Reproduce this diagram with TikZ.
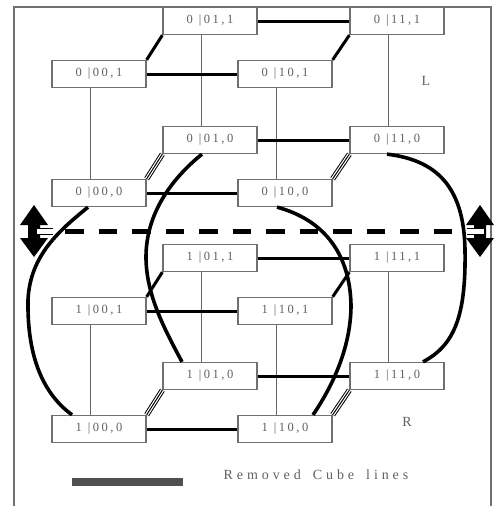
\documentclass[tikz,border=0pt]{standalone}
\usepackage{fontspec}
\setmainfont{Liberation Serif}
\newfontfamily\lblfont[LetterSpace=20]{Liberation Serif}
\newfontfamily\capfont[LetterSpace=28]{Liberation Serif}
\definecolor{boxline}{HTML}{707070}
\definecolor{boxtext}{HTML}{606060}
\definecolor{legendbar}{HTML}{505050}
\newcommand{\lab}[2]{#1\hspace{6pt}|#2}
\tikzset{
  cube/.style={draw=boxline, line width=1.3pt, fill=white, minimum width=94pt, minimum height=27pt, inner sep=0pt, text=boxtext, font=\lblfont\fontsize{12.5}{12.5}\selectfont},
  thinv/.style={draw=black!60, line width=0.9pt},
  thickl/.style={line width=3pt},
  triple/.style={line width=1pt, double distance=3.4pt},
  curve/.style={line width=3.6pt},
  sidelbl/.style={text=boxtext, font=\fontsize{14}{14}\selectfont, inner sep=0pt},
}
\begin{document}
\begin{tikzpicture}[x=1pt,y=-1pt]
\useasboundingbox (0,0) rectangle (494,506);
% frame
\draw[boxline, line width=1.5pt] (14,506) -- (14,7) -- (491,7) -- (491,506);
% boxes
\node[cube] (L011) at (210,21) {\lab{0}{01,1}};
\node[cube] (L111) at (397,21) {\lab{0}{11,1}};
\node[cube] (L001) at (99,74) {\lab{0}{00,1}};
\node[cube] (L101) at (285,74) {\lab{0}{10,1}};
\node[cube] (L010) at (210,140) {\lab{0}{01,0}};
\node[cube] (L110) at (397,140) {\lab{0}{11,0}};
\node[cube] (L000) at (99,193) {\lab{0}{00,0}};
\node[cube] (L100) at (285,193) {\lab{0}{10,0}};
\node[cube] (R011) at (210,258) {\lab{1}{01,1}};
\node[cube] (R111) at (397,258) {\lab{1}{11,1}};
\node[cube] (R001) at (99,311) {\lab{1}{00,1}};
\node[cube] (R101) at (285,311) {\lab{1}{10,1}};
\node[cube] (R010) at (210,376) {\lab{1}{01,0}};
\node[cube] (R110) at (397,376) {\lab{1}{11,0}};
\node[cube] (R000) at (99,429) {\lab{1}{00,0}};
\node[cube] (R100) at (285,429) {\lab{1}{10,0}};
% thin verticals
\foreach \u/\d in {L011/L010, L111/L110, L001/L000, L101/L100, R011/R010, R111/R110, R001/R000, R101/R100}
  \draw[thinv] ([xshift=-9pt]\u.south) -- ([xshift=-9pt]\d.north);
% thick horizontals
\foreach \a/\b in {L011/L111, L001/L101, L010/L110, L000/L100, R011/R111, R001/R101, R010/R110, R000/R100}
  \draw[thickl] (\a.east) -- (\b.west);
% thick diagonals
\foreach \a/\b in {L001/L011, L101/L111, R001/R011, R101/R111}
  \draw[thickl] (\a.north east) -- (\b.south west);
% triple diagonals
\foreach \a/\b in {L000/L010, L100/L110, R000/R010, R100/R110}
  {\draw[triple] (\a.north east) -- (\b.south west);
   \draw[line width=1pt] (\a.north east) -- (\b.south west);}
% curves
\draw[curve] ([xshift=-11pt]L000.south) .. controls (60,230) and (30,255) .. (28,300)
  .. controls (27,360) and (45,395) .. ([xshift=-27pt]R000.north);
\draw[curve] ([xshift=-8pt]L010.south) .. controls (170,180) and (146,215) .. (146,257)
  .. controls (146,295) and (165,330) .. ([xshift=-28pt]R010.north);
\draw[curve] ([xshift=-8pt]L100.south) .. controls (325,220) and (350,255) .. (351,305)
  .. controls (351,350) and (330,390) .. ([xshift=28pt]R100.north);
\draw[curve] ([xshift=-10pt]L110.south) .. controls (435,160) and (464,185) .. (465,250)
  .. controls (466,315) and (455,345) .. ([xshift=26pt]R110.north);
% double arrows
\fill (34,205) -- (20,225) -- (28,225) -- (28,238) -- (20,238) -- (34,257) -- (48,238) -- (40,238) -- (40,225) -- (48,225) -- cycle;
\fill (480,205) -- (466,225) -- (474,225) -- (474,238) -- (466,238) -- (480,257) -- (494,238) -- (486,238) -- (486,225) -- (494,225) -- cycle;
% dashed separator
\draw[line width=4.5pt, dash pattern=on 18.5pt off 15pt] (65,231.5) -- (452,231.5);
\draw[line width=1.3pt, double distance=4.5pt] (37,231.5) -- (53,231.5);
\draw[line width=1.3pt, double distance=4.5pt] (467,231.5) -- (484,231.5);
% side labels
\node[sidelbl] (lblL) at (426,81) {L};
\node[sidelbl] (lblR) at (407,422) {R};
% legend
\coordinate (legA) at (72,482);
\coordinate (legB) at (183,482);
\draw[legendbar, line width=8pt] (legA) -- (legB);
\node[text=boxtext, font=\capfont\fontsize{14}{14}\selectfont, inner sep=0pt] (legtext) at (316,475) {Removed\hspace{12pt}Cube\hspace{12pt}lines};
\end{tikzpicture}
\end{document}
